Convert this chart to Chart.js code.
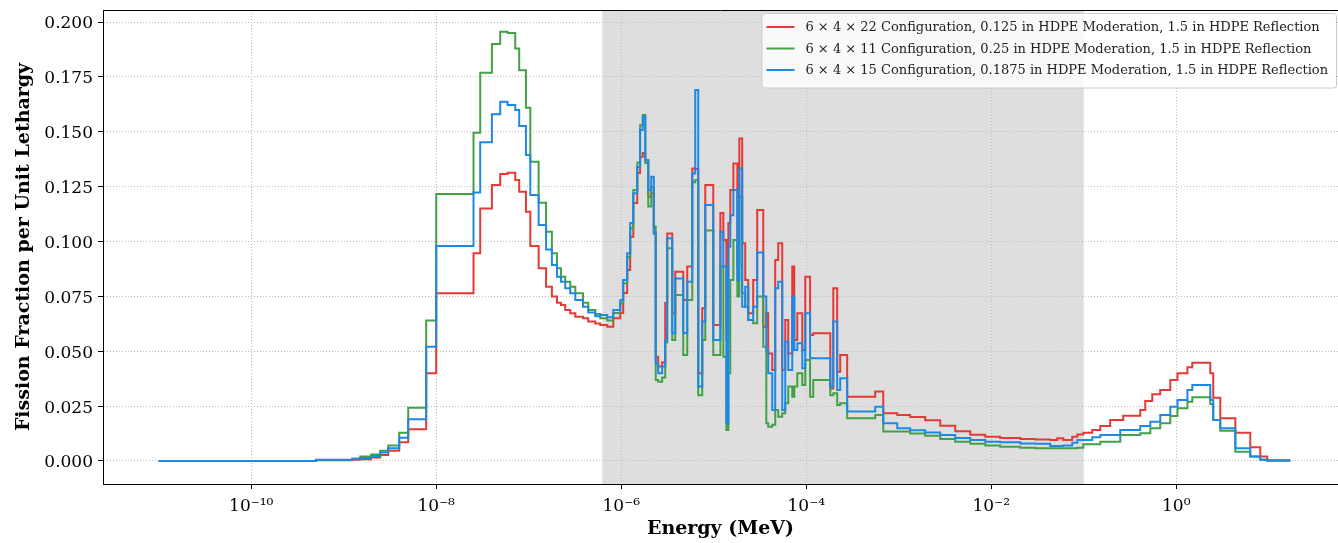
<!DOCTYPE html>
<html>
<head>
<meta charset="utf-8">
<script src="https://cdn.jsdelivr.net/npm/chart.js@4.4.1/dist/chart.umd.min.js"></script>
<style>
  html, body { margin: 0; padding: 0; background: #fff; }
  canvas { display: block; }
</style>
</head>
<body>
<canvas id="myChart" width="1338" height="543"></canvas>
<script>
// group lower edges (MeV); the last entry is the upper edge of the last group
var energy = [
  1.0e-11, 5.0e-10, 1.24e-9, 1.51e-9, 1.98e-9, 2.48e-9, 3.03e-9, 3.98e-9, 4.98e-9, 7.79e-9,
  1.0e-8, 2.53e-8, 2.99e-8, 4.0e-8, 4.92e-8, 5.9e-8, 7.15e-8, 7.89e-8, 9.33e-8, 1.04e-7,
  1.28e-7, 1.54e-7, 1.78e-7, 2.02e-7, 2.23e-7, 2.48e-7, 2.81e-7, 3.19e-7, 3.86e-7, 4.40e-7,
  5.24e-7, 5.93e-7, 7.06e-7, 8.2e-7, 9.76e-7, 1.05e-6, 1.16e-6, 1.25e-6, 1.35e-6, 1.49e-6,
  1.60e-6, 1.71e-6, 1.82e-6, 1.96e-6, 2.11e-6, 2.25e-6, 2.36e-6, 2.51e-6, 2.77e-6, 2.99e-6,
  3.14e-6, 3.56e-6, 3.84e-6, 4.68e-6, 5.17e-6, 5.86e-6, 6.31e-6, 6.80e-6, 7.51e-6, 8.10e-6,
  9.88e-6, 1.18e-5, 1.27e-5, 1.37e-5, 1.44e-5, 1.51e-5, 1.63e-5, 1.80e-5, 1.89e-5, 2.03e-5,
  2.19e-5, 2.36e-5, 2.67e-5, 2.95e-5, 3.43e-5, 3.70e-5, 3.88e-5, 4.29e-5, 4.62e-5, 4.98e-5,
  5.50e-5, 5.93e-5, 6.39e-5, 7.06e-5, 7.42e-5, 8.0e-5, 9.06e-5, 9.76e-5, 1.10e-4, 1.19e-4,
  1.82e-4, 1.96e-4, 2.16e-4, 2.33e-4, 2.77e-4, 5.57e-4, 6.80e-4, 9.63e-4, 1.33e-3, 1.93e-3,
  2.81e-3, 4.08e-3, 5.93e-3, 8.61e-3, 1.25e-2, 2.06e-2, 2.99e-2, 4.34e-2, 5.17e-2, 6.0e-2,
  7.51e-2, 8.51e-2, 0.0989, 0.1236, 0.151, 0.193, 0.248, 0.267, 0.408, 0.462,
  0.524, 0.550, 0.671, 0.861, 1.03, 1.32, 1.49, 1.82, 2.33, 2.51,
  2.99, 4.35, 6.31, 8.09, 9.63, 17.1
];

// 6 x 4 x 22, 0.125 in moderation
var red = [
  0, .0003, .0006, .0008, .0016, .0027, .0046, .0085, .0144, .0400,
  .0764, .0946, .1151, .1257, .1308, .1313, .1280, .1227, .1136, .0980,
  .0878, .0794, .0749, .0721, .0711, .0688, .0673, .0657, .0650, .0635,
  .0626, .0620, .0612, .0650, .0674, .0765, .0870, .1022, .1175, .1312,
  .1386, .1403, .1370, .1204, .1220, .1037, .0475, .0430, .0450, .0720,
  .1037, .0673, .0862, .0733, .0886, .1333, .1330, .0400, .0696, .1257,
  .0620, .1130, .1007, .0551, .1084, .1235, .1356, .0886, .1470, .0992,
  .0825, .0673, .0825, .1144, .0612, .0673, .0490, .0415, .0916, .0992,
  .0415, .0642, .0490, .0886, .0551, .0673, .0506, .0840, .0574, .0582,
  .0330, .0787, .0407, .0483, .0293, .0316, .0217, .0210, .0200, .0185,
  .0160, .0135, .0120, .0110, .0105, .0100, .0098, .0096, .0103, .0096,
  .0110, .0121, .0129, .0141, .0159, .0187, .0187, .0206, .0232, .0273,
  .0273, .0304, .0323, .0369, .0400, .0427, .0448, .0447, .0400, .0288,
  .0195, .0129, .0062, .0020, .0002, .0002
];

// 6 x 4 x 11, 0.25 in moderation
var green = [
  0, .0004, .0010, .0020, .0030, .0047, .0071, .0129, .0243, .0640,
  .1216, .1496, .1769, .1900, .1956, .1950, .1880, .1780, .1610, .1364,
  .1177, .1045, .0946, .0878, .0840, .0817, .0794, .0764, .0721, .0688,
  .0670, .0650, .0640, .0674, .0720, .0810, .0930, .1060, .1235, .1360,
  .1530, .1576, .1358, .1160, .1250, .1068, .0369, .0361, .0380, .0540,
  .0969, .0551, .0756, .0483, .0733, .1270, .1280, .0300, .0551, .1050,
  .0483, .0886, .0475, .0141, .0400, .0825, .1007, .0749, .1204, .0764,
  .0703, .0642, .0628, .0750, .0520, .0172, .0156, .0165, .0232, .0202,
  .0217, .0263, .0339, .0293, .0339, .0400, .0346, .0460, .0293, .0369,
  .0300, .0308, .0255, .0263, .0195, .0210, .0134, .0134, .0125, .0115,
  .0100, .0088, .0078, .0070, .0065, .0060, .0058, .0058, .0058, .0058,
  .0058, .0060, .0076, .0076, .0088, .0088, .0118, .0118, .0126, .0126,
  .0149, .0149, .0172, .0205, .0240, .0270, .0290, .0290, .0260, .0187,
  .0138, .0042, .0020, .0005, .0002, .0002
];

// 6 x 4 x 15, 0.1875 in moderation
var blue = [
  0, .0005, .0010, .0014, .0023, .0038, .0058, .0106, .0190, .0520,
  .0980, .1223, .1452, .1580, .1637, .1622, .1599, .1526, .1394, .1212,
  .1075, .0964, .0893, .0840, .0817, .0787, .0764, .0733, .0703, .0676,
  .0660, .0665, .0655, .0688, .0733, .0825, .0947, .1084, .1220, .1340,
  .1508, .1568, .1370, .1235, .1295, .1037, .0445, .0400, .0430, .0551,
  .1015, .0582, .0832, .0583, .0817, .1310, .1690, .0339, .0635, .1166,
  .0551, .1045, .0886, .0172, .0976, .1120, .1235, .0825, .1333, .0703,
  .0794, .0642, .0703, .0950, .0749, .0506, .0400, .0232, .0787, .0817,
  .0232, .0544, .0415, .0749, .0506, .0536, .0422, .0673, .0468, .0468,
  .0340, .0635, .0323, .0377, .0225, .0247, .0172, .0149, .0140, .0130,
  .0118, .0105, .0095, .0088, .0085, .0080, .0078, .0068, .0068, .0070,
  .0083, .0096, .0096, .0108, .0118, .0118, .0141, .0141, .0159, .0159,
  .0179, .0179, .0210, .0247, .0278, .0323, .0346, .0346, .0278, .0187,
  .0149, .0058, .0020, .0005, .0002, .0002
];

var seriesNames = [
  '6 \u00d7 4 \u00d7 22 Configuration, 0.125 in HDPE Moderation, 1.5 in HDPE Reflection',
  '6 \u00d7 4 \u00d7 11 Configuration, 0.25 in HDPE Moderation, 1.5 in HDPE Reflection',
  '6 \u00d7 4 \u00d7 15 Configuration, 0.1875 in HDPE Moderation, 1.5 in HDPE Reflection'
];
var seriesColors = ['#e53935', '#43a047', '#1e88e5'];

// intermediate energy band (shaded)
var bandLow = 6.25e-7;
var bandHigh = 0.1;

var xTicks = [1e-10, 1e-8, 1e-6, 1e-4, 1e-2, 1e0];
var yTicks = [0, 0.025, 0.05, 0.075, 0.1, 0.125, 0.15, 0.175, 0.2];

var FONT = '"DejaVu Serif", serif';
var SUP = {'-': '\u207b', '0': '\u2070', '1': '\u00b9', '2': '\u00b2', '3': '\u00b3', '4': '\u2074',
           '5': '\u2075', '6': '\u2076', '7': '\u2077', '8': '\u2078', '9': '\u2079'};
function sup(n) {
    return String(n).split('').map(function (c) { return SUP[c]; }).join('');
}

function toPoints(vals) {
    return energy.map(function (e, i) { return {x: e, y: vals[i]}; });
}

var shadePlugin = {
    id: 'shade',
    beforeDraw: function (chart) {
        var ctx = chart.ctx, area = chart.chartArea, x = chart.scales.x;
        var x0 = x.getPixelForValue(bandLow), x1 = x.getPixelForValue(bandHigh);
        ctx.save();
        ctx.fillStyle = '#dedede';
        ctx.fillRect(x0, area.top, x1 - x0, area.bottom - area.top);
        ctx.restore();
    }
};

var framePlugin = {
    id: 'frame',
    afterDraw: function (chart) {
        var ctx = chart.ctx, area = chart.chartArea;
        ctx.save();
        ctx.strokeStyle = '#000';
        ctx.lineWidth = 1;
        ctx.beginPath();
        ctx.moveTo(area.left, area.top + 0.5);
        ctx.lineTo(area.right, area.top + 0.5);
        ctx.stroke();
        ctx.restore();
    }
};

var legendPlugin = {
    id: 'boxLegend',
    afterDraw: function (chart) {
        var ctx = chart.ctx, area = chart.chartArea;
        ctx.save();
        ctx.font = '13px ' + FONT;
        var maxW = 0;
        seriesNames.forEach(function (s) { maxW = Math.max(maxW, ctx.measureText(s).width); });
        var rowH = 21.5, handle = 28, gap = 11, pad = 5;
        var w = pad + handle + gap + maxW + 8;
        var h = rowH * seriesNames.length + 10;
        var right = area.right - 2, top = area.top + 3;
        var left = right - w;
        ctx.fillStyle = 'rgba(255,255,255,0.8)';
        ctx.strokeStyle = '#cccccc';
        ctx.lineWidth = 1;
        ctx.beginPath();
        ctx.roundRect(left + 0.5, top + 0.5, w, h, 3);
        ctx.fill();
        ctx.stroke();
        ctx.textBaseline = 'middle';
        ctx.fillStyle = '#222';
        seriesNames.forEach(function (s, i) {
            var cy = top + 14 + i * rowH;
            ctx.strokeStyle = seriesColors[i];
            ctx.lineWidth = 2;
            ctx.beginPath();
            ctx.moveTo(left + pad, cy);
            ctx.lineTo(left + pad + handle, cy);
            ctx.stroke();
            ctx.fillText(s, left + pad + handle + gap, cy + 1);
        });
        ctx.restore();
    }
};

var ctx = document.getElementById('myChart').getContext('2d');
var myChart = new Chart(ctx, {
    type: 'line',
    data: {
        datasets: [
            {label: seriesNames[0], data: toPoints(red), borderColor: seriesColors[0], order: 3},
            {label: seriesNames[1], data: toPoints(green), borderColor: seriesColors[1], order: 2},
            {label: seriesNames[2], data: toPoints(blue), borderColor: seriesColors[2], order: 1}
        ].map(function (d) {
            d.borderWidth = 2;
            d.stepped = 'before';
            d.pointRadius = 0;
            d.fill = false;
            d.borderJoinStyle = 'miter';
            return d;
        })
    },
    options: {
        responsive: false,
        animation: false,
        layout: { padding: { top: 10, right: 0, left: 0, bottom: 0 } },
        plugins: {
            legend: { display: false },
            tooltip: { enabled: false }
        },
        scales: {
            x: {
                type: 'logarithmic',
                min: 2.5e-12,
                max: 56,
                afterBuildTicks: function (s) { s.ticks = xTicks.map(function (v) { return {value: v}; }); },
                afterFit: function (s) { s.height = 59; s.paddingLeft = 0; s.paddingRight = 0; },
                ticks: {
                    autoSkip: false,
                    maxRotation: 0,
                    padding: 7,
                    color: '#000',
                    font: { family: FONT, size: 17 },
                    callback: function (v) { return '10' + sup(Math.round(Math.log10(v))); }
                },
                grid: { color: '#bdbdbd', lineWidth: 1, tickColor: '#000', tickLength: 5, tickBorderDash: [] },
                border: { display: true, color: '#000', width: 1, dash: [1, 2] },
                title: {
                    display: true,
                    text: 'Energy (MeV)',
                    color: '#000',
                    font: { family: FONT, size: 19, weight: 'bold' },
                    padding: { top: 0, bottom: 3 }
                }
            },
            y: {
                min: -0.0105,
                max: 0.2055,
                afterBuildTicks: function (s) { s.ticks = yTicks.map(function (v) { return {value: v}; }); },
                afterFit: function (s) { s.width = 103; s.paddingTop = 0; s.paddingBottom = 0; },
                ticks: {
                    padding: 5,
                    labelOffset: 2,
                    color: '#000',
                    font: { family: FONT, size: 17 },
                    callback: function (v) { return v.toFixed(3); }
                },
                grid: { color: '#bdbdbd', lineWidth: 1, tickColor: '#000', tickLength: 5, tickBorderDash: [] },
                border: { display: true, color: '#000', width: 1, dash: [1, 2] },
                title: {
                    display: true,
                    text: 'Fission Fraction per Unit Lethargy',
                    color: '#000',
                    font: { family: FONT, size: 19, weight: 'bold' },
                    padding: { top: 13, bottom: 0 }
                }
            }
        }
    },
    plugins: [shadePlugin, framePlugin, legendPlugin]
});
</script>
</body>
</html>
